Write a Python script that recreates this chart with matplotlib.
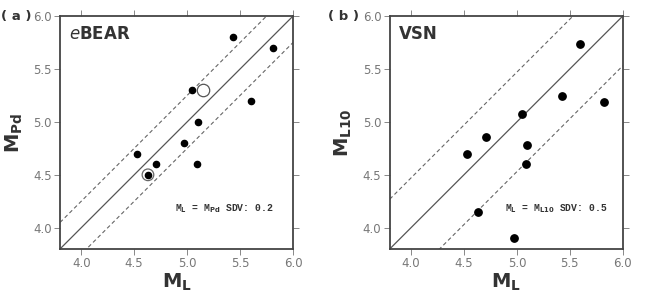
import matplotlib
matplotlib.use("Agg")
import matplotlib.pyplot as plt

# panel (a): eBEAR
ml_a = [5.43, 5.81, 5.05, 5.60, 5.10, 4.97, 4.53, 4.71, 5.09, 4.63]
mpd_a = [5.80, 5.70, 5.30, 5.20, 5.00, 4.80, 4.70, 4.60, 4.60, 4.50]
open_a = (5.15, 5.30)
ring_a = (4.63, 4.50)
band_a = 0.25

# panel (b): VSN
ml_b = [5.60, 5.43, 5.82, 5.05, 4.71, 5.10, 4.53, 5.09, 4.63, 4.97]
ml10_b = [5.74, 5.24, 5.19, 5.07, 4.86, 4.78, 4.70, 4.60, 4.15, 3.90]
band_b = 0.47

lims = (3.8, 6.0)
ticks = [4.0, 4.5, 5.0, 5.5, 6.0]
tick_labels = ["4.0", "4.5", "5.0", "5.5", "6.0"]

fig = plt.figure(figsize=(6.64, 2.96), dpi=100)
ax_a = fig.add_axes([0.0904, 0.159, 0.351, 0.787])
ax_b = fig.add_axes([0.587, 0.159, 0.351, 0.787])

spine_c = "#444444"


def style_axes(ax, band, ylabel, title, note, panel, panel_x):
    ax.set_xlim(lims)
    ax.set_ylim(lims)
    line = [lims[0], lims[1]]
    ax.plot(line, line, color="#555555", lw=0.9, zorder=1)
    ax.plot(line, [v + band for v in line], color="#666666", lw=0.8,
            ls=(0, (3.5, 2.5)), zorder=1)
    ax.plot(line, [v - band for v in line], color="#666666", lw=0.8,
            ls=(0, (3.5, 2.5)), zorder=1)
    ax.set_xticks(ticks)
    ax.set_xticklabels(tick_labels)
    ax.set_yticks(ticks)
    ax.set_yticklabels(tick_labels)
    ax.tick_params(direction="out", length=4, width=0.7, colors="#888888",
                   labelsize=8.5, labelcolor="#777777", top=True, right=True,
                   pad=2)
    for s in ax.spines.values():
        s.set_color(spine_c)
        s.set_linewidth(1.3)
    ax.set_xlabel(r"$\mathbf{M_L}$", fontsize=14, color="#333333", labelpad=1)
    ax.set_ylabel(ylabel, fontsize=14, color="#333333", labelpad=6)
    ax.text(0.04, 0.96, title, transform=ax.transAxes, fontsize=12,
            fontweight="bold", color="#333333", va="top", ha="left")
    ax.text(4.89, 4.18, note, fontsize=7, fontfamily="Liberation Mono",
            fontweight="bold", color="#333333", va="center", ha="left")
    fig.text(panel_x, 0.945, panel, fontsize=9.5, fontweight="bold",
             color="#333333", va="center", ha="left")


style_axes(ax_a, band_a, r"$\mathbf{M_{Pd}}$",
           r"$\mathit{e}$BEAR",
           r"M$_\mathbf{L}$ = M$_\mathbf{Pd}$ SDV: 0.2", "( a )", 0.002)
ax_a.scatter(ml_a, mpd_a, s=20, color="black", zorder=3)
ax_a.scatter([ring_a[0]], [ring_a[1]], s=70, facecolor="none",
             edgecolor="#666666", lw=0.9, zorder=3)
ax_a.scatter([open_a[0]], [open_a[1]], s=80, facecolor="white",
             edgecolor="#555555", lw=0.9, zorder=3)

style_axes(ax_b, band_b, r"$\mathbf{M_{L10}}$", "VSN",
           r"M$_\mathbf{L}$ = M$_\mathbf{L10}$ SDV: 0.5", "( b )", 0.494)
ax_b.scatter(ml_b, ml10_b, s=28, color="black", zorder=3)

fig.savefig("out.png", dpi=100)
